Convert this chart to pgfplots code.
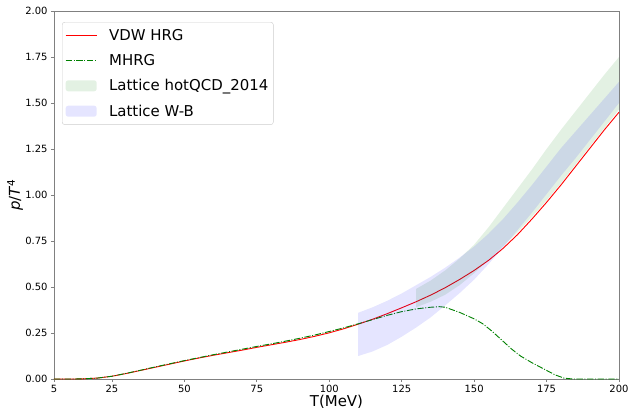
\documentclass[border=0pt]{standalone}
\usepackage{fontspec}
\setmainfont{DejaVu Sans}
\usepackage{pgfplots}
\pgfplotsset{compat=1.18}
\definecolor{mplgreen}{rgb}{0,0.5,0}
\definecolor{spine}{rgb}{0.5,0.5,0.5}
\pgfplotsset{
  lineleg/.style={legend image code/.code={\draw[##1] (0bp,0bp) -- (31bp,0bp);}},
  arealeg/.style={legend image code/.code={\fill[##1] (0bp,-5.5bp) rectangle (31bp,5.5bp);}},
}
\begin{document}
\begin{tikzpicture}
\path[use as bounding box] (-54bp,-29bp) rectangle (576bp,379bp);
\begin{axis}[
  at={(0,0)}, anchor=south west,
  scale only axis, width=565bp, height=368bp,
  xmin=5, xmax=200, ymin=0, ymax=2,
  xtick={5,25,50,75,100,125,150,175,200},
  ytick={0,0.25,0.5,0.75,1,1.25,1.5,1.75,2},
  yticklabel style={/pgf/number format/.cd, fixed, fixed zerofill, precision=2},
  /pgf/number format/assume math mode=true,
  tick label style={font=\fontsize{10}{12}\selectfont, text=black},
  xtick pos=lower, ytick pos=left,
  tick align=outside, major tick length=3bp,
  every tick/.style={spine, line width=0.8bp},
  axis line style={spine, line width=0.9bp},
  xlabel={T(MeV)},
  ylabel={\textit{p}/\textit{T}\textsuperscript{4}},
  every axis x label/.style={at={(axis description cs:0.5,-0.0745)}, anchor=base, font=\fontsize{15}{18}\selectfont},
  every axis y label/.style={at={(axis description cs:-0.0602,0.5)}, rotate=90, anchor=base, font=\fontsize{15}{18}\selectfont},
  legend style={at={(axis description cs:0.0142,0.970)}, anchor=north west,
    draw=black!20, rounded corners=2.5bp, fill=white,
    font=\fontsize{15}{18}\selectfont, row sep=8.5bp,
    inner xsep=3bp, inner ysep=5bp,
    nodes={inner sep=2bp},
    /tikz/every odd column/.append style={column sep=10bp}},
  legend cell align=left,
]
\addplot[red, line width=0.9bp, lineleg] coordinates {
(5,0)(12,0)(15,0.001)(20,0.005)(25,0.015)(30,0.030)(35,0.047)(40,0.064)(45,0.081)(50,0.098)
(55,0.114)(60,0.129)(65,0.143)(70,0.157)(75,0.172)(80,0.186)(85,0.200)(90,0.215)
(95,0.232)(100,0.251)(105,0.273)(110,0.298)(115,0.325)(120,0.355)(125,0.387)(130,0.420)
(135,0.456)(140,0.496)(145,0.541)(150,0.590)(155,0.645)(160,0.710)(165,0.785)(170,0.870)
(175,0.960)(180,1.055)(185,1.155)(190,1.255)(195,1.355)(200,1.450)};
\addlegendentry{VDW HRG}
\addplot[mplgreen, line width=0.9bp, dash pattern=on 6.4bp off 1.6bp on 1bp off 1.6bp, lineleg] coordinates {
(5,0)(12,0)(15,0.001)(20,0.005)(25,0.015)(30,0.031)(35,0.048)(40,0.066)(45,0.083)(50,0.100)
(55,0.116)(60,0.132)(65,0.147)(70,0.162)(75,0.177)(80,0.191)(85,0.206)(90,0.222)
(95,0.239)(100,0.258)(105,0.278)(110,0.300)(115,0.323)(120,0.346)(125,0.366)(130,0.381)
(135,0.390)(138,0.393)(140,0.390)(145,0.362)(150,0.327)(153,0.300)(156,0.262)(160,0.205)
(163,0.162)(166,0.125)(170,0.088)(174,0.055)(178,0.022)(181,0.005)(184,0)(200,0)};
\addlegendentry{MHRG}
\addplot[draw=none, fill=mplgreen, fill opacity=0.11, arealeg] coordinates {
(130,0.490)(135,0.535)(140,0.590)(145,0.655)(150,0.730)(155,0.825)(160,0.930)(165,1.035)
(170,1.140)(175,1.250)(180,1.355)(185,1.455)(190,1.555)(195,1.655)(200,1.750)
(200,1.465)(195,1.365)(190,1.265)(185,1.165)(180,1.065)(175,0.970)(170,0.882)(165,0.798)
(160,0.722)(155,0.648)(150,0.575)(145,0.510)(140,0.458)(135,0.420)(130,0.390)};
\addlegendentry{Lattice hotQCD\_2014}
\addplot[draw=none, fill=blue, fill opacity=0.1, arealeg] coordinates {
(110,0.360)(115,0.390)(120,0.425)(125,0.465)(130,0.510)(135,0.555)(140,0.605)(145,0.660)
(150,0.720)(155,0.790)(160,0.870)(165,0.960)(170,1.055)(175,1.155)(180,1.255)(185,1.345)
(190,1.435)(195,1.525)(200,1.615)
(200,1.500)(195,1.400)(190,1.300)(185,1.200)(180,1.105)(175,1.005)(170,0.905)(165,0.810)
(160,0.715)(155,0.625)(150,0.540)(145,0.467)(140,0.400)(135,0.335)(130,0.280)(125,0.230)
(120,0.185)(115,0.150)(110,0.125)};
\addlegendentry{Lattice W-B}
\end{axis}
\end{tikzpicture}
\end{document}
